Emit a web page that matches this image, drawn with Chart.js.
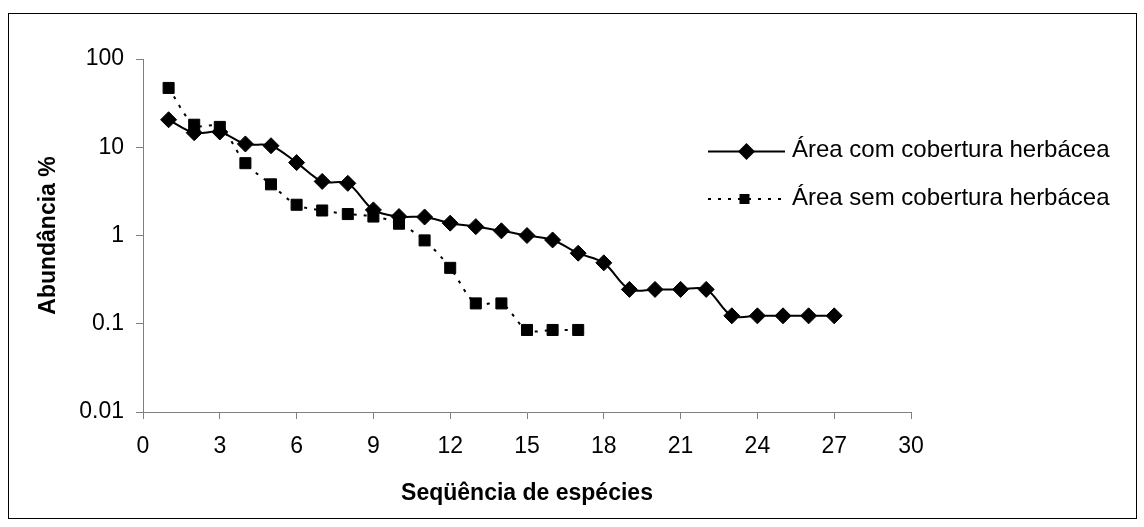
<!DOCTYPE html>
<html lang="pt">
<head>
<meta charset="utf-8">
<title>Abundância de espécies</title>
<script src="https://cdn.jsdelivr.net/npm/chart.js@4/dist/chart.umd.min.js"></script>
<style>
  html, body { margin: 0; padding: 0; background: #ffffff; }
  #wrap { width: 1144px; height: 527px; }
</style>
</head>
<body>
<div id="wrap"><canvas id="grafico" width="1144" height="527"></canvas></div>
<script>
// Sequência de espécies (rank) e abundância relativa (%) de cada área
const especiesCom = [1, 2, 3, 4, 5, 6, 7, 8, 9, 10, 11, 12, 13, 14, 15, 16, 17, 18, 19, 20, 21, 22, 23, 24, 25, 26, 27];
const abundanciaCom = [20.5, 14.6, 14.9, 10.9, 10.4, 6.7, 4.1, 3.9, 1.95, 1.64, 1.62, 1.38, 1.26, 1.13, 1.0, 0.89, 0.63, 0.49, 0.245, 0.245, 0.245, 0.245, 0.123, 0.123, 0.123, 0.123, 0.123];

const especiesSem = [1, 2, 3, 4, 5, 6, 7, 8, 9, 10, 11, 12, 13, 14, 15, 16, 17];
const abundanciaSem = [47, 18, 17, 6.6, 3.8, 2.23, 1.92, 1.75, 1.64, 1.36, 0.88, 0.43, 0.17, 0.17, 0.085, 0.085, 0.085];

const nomesSeries = ['Área com cobertura herbácea', 'Área sem cobertura herbácea'];
const ticksY = [0.01, 0.1, 1, 10, 100];
const tituloX = 'Seqüência de espécies';
const tituloY = 'Abundância %';

const FONTE = '"Liberation Sans", Arial, Helvetica, sans-serif';
const COR_EIXO = '#7f7f7f';

const pontos = (xs, ys) => xs.map((x, i) => ({ x: x, y: ys[i] }));

// Moldura externa do gráfico
const moldura = {
  id: 'moldura',
  beforeDraw(chart) {
    const ctx = chart.ctx;
    ctx.save();
    ctx.fillStyle = '#ffffff';
    ctx.fillRect(0, 0, chart.width, chart.height);
    ctx.strokeStyle = '#000000';
    ctx.lineWidth = 1;
    ctx.strokeRect(8.5, 13.5, 1128, 505);
    ctx.restore();
  }
};

// Legenda com amostra de linha + marcador, à direita
const legendaLinhas = {
  id: 'legendaLinhas',
  afterDraw(chart) {
    const ctx = chart.ctx;
    ctx.save();
    chart.data.datasets.forEach((ds, i) => {
      const yLinha = 151.5 + i * 47.5;
      const x0 = 708, x1 = 785, xm = 746.5;
      ctx.strokeStyle = '#000000';
      ctx.lineWidth = 2;
      ctx.setLineDash(ds.borderDash || []);
      ctx.beginPath();
      ctx.moveTo(x0, yLinha);
      ctx.lineTo(x1, yLinha);
      ctx.stroke();
      ctx.setLineDash([]);
      ctx.fillStyle = '#000000';
      ctx.beginPath();
      if (ds.pointStyle === 'rectRot') {
        const r = 8.5;
        ctx.moveTo(xm - r, yLinha);
        ctx.lineTo(xm, yLinha - r);
        ctx.lineTo(xm + r, yLinha);
        ctx.lineTo(xm, yLinha + r);
        ctx.closePath();
      } else {
        const h = 5;
        ctx.rect(xm - 2 - h, yLinha - h, 2 * h, 2 * h);
      }
      ctx.fill();
      ctx.font = '24px ' + FONTE;
      ctx.textAlign = 'left';
      ctx.textBaseline = 'alphabetic';
      ctx.fillText(ds.label, 792, yLinha + 5.5);
    });
    ctx.restore();
  }
};

new Chart(document.getElementById('grafico'), {
  type: 'line',
  data: {
    datasets: [
      {
        label: nomesSeries[0],
        data: pontos(especiesCom, abundanciaCom),
        borderColor: '#000000',
        backgroundColor: '#000000',
        borderWidth: 2,
        tension: 0.33,
        pointStyle: 'rectRot',
        pointRadius: 8,
        pointBorderWidth: 1,
        pointBackgroundColor: '#000000',
        pointBorderColor: '#000000'
      },
      {
        label: nomesSeries[1],
        data: pontos(especiesSem, abundanciaSem),
        borderColor: '#000000',
        backgroundColor: '#000000',
        borderWidth: 2,
        borderDash: [3, 7],
        tension: 0.33,
        pointStyle: 'rect',
        pointRadius: 7.8,
        pointBorderWidth: 1,
        pointBackgroundColor: '#000000',
        pointBorderColor: '#000000'
      }
    ]
  },
  options: {
    responsive: false,
    devicePixelRatio: 1,
    animation: false,
    layout: { padding: { left: 0, top: 59, right: 233, bottom: 0 } },
    plugins: {
      legend: { display: false },
      tooltip: { enabled: false }
    },
    scales: {
      x: {
        type: 'linear',
        min: 0,
        max: 30,
        ticks: {
          stepSize: 3,
          color: '#000000',
          padding: 14,
          font: { family: FONTE, size: 23 }
        },
        grid: { drawOnChartArea: false, drawTicks: true, tickLength: 7, color: COR_EIXO },
        border: { display: true, color: COR_EIXO, width: 1 },
        title: {
          display: true,
          text: tituloX,
          color: '#000000',
          font: { family: FONTE, size: 23, weight: 'bold' },
          padding: { top: 0, bottom: 20 }
        },
        afterFit(scale) { scale.height = 115; }
      },
      y: {
        type: 'logarithmic',
        min: 0.01,
        max: 100,
        afterBuildTicks(scale) { scale.ticks = ticksY.map(v => ({ value: v })); },
        ticks: {
          color: '#000000',
          padding: 12,
          font: { family: FONTE, size: 23 },
          callback: (v) => String(v)
        },
        grid: { drawOnChartArea: false, drawTicks: true, tickLength: 7, color: COR_EIXO },
        border: { display: true, color: COR_EIXO, width: 1 },
        title: {
          display: true,
          text: tituloY,
          color: '#000000',
          font: { family: FONTE, size: 23, weight: 'bold' },
          padding: { top: 35, bottom: 0 }
        },
        afterFit(scale) { scale.width = 143; }
      }
    }
  },
  plugins: [moldura, legendaLinhas]
});
</script>
</body>
</html>
